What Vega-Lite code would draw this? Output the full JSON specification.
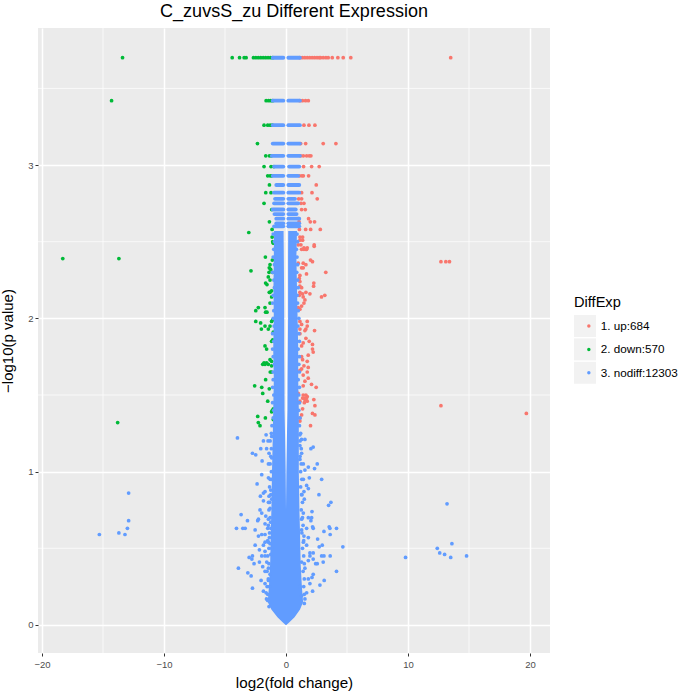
{"$schema":"https://vega.github.io/schema/vega-lite/v6.json","width":512,"height":625,"autosize":"none","padding":{"left":38,"top":28,"right":135,"bottom":39},"background":"white","title":{"text":"C_zuvsS_zu Different Expression","fontSize":18,"fontWeight":"normal","font":"Liberation Sans","color":"black","anchor":"middle","offset":7},"config":{"view":{"fill":"#EBEBEB","stroke":null},"font":"Liberation Sans"},
"datasets":{"minorX":[{"v":-15},{"v":-5},{"v":5},{"v":15}],"minorY":[{"v":0.5},{"v":1.5},{"v":2.5},{"v":3.5}],"key":[{"g":"1. up:684","x":0,"y":0},{"g":"2. down:570","x":0,"y":0},{"g":"3. nodiff:12303","x":0,"y":0}],
"bands":[{"y":3.7,"a":-1.09,"b":-0.22},{"y":3.7,"a":0.19,"b":1.14},{"y":3.42,"a":-1.09,"b":-0.22},{"y":3.42,"a":0.19,"b":1.14},{"y":3.26,"a":-1.09,"b":-0.22},{"y":3.26,"a":0.19,"b":1.14},{"y":3.14,"a":-1.09,"b":-0.22},{"y":3.14,"a":0.19,"b":1.14},{"y":3.06,"a":-1.17,"b":-0.22},{"y":3.06,"a":0.19,"b":1.14},{"y":2.99,"a":-0.98,"b":-0.22},{"y":2.99,"a":0.25,"b":1.09},{"y":2.93,"a":-1.09,"b":-0.22},{"y":2.93,"a":0.19,"b":1.0},{"y":2.87,"a":-0.8,"b":-0.22},{"y":2.87,"a":0.19,"b":1.09},{"y":2.82,"a":-0.98,"b":-0.22},{"y":2.82,"a":0.19,"b":1.09},{"y":2.78,"a":-0.9,"b":-0.22},{"y":2.78,"a":0.19,"b":0.74},{"y":2.75,"a":-0.98,"b":-0.22},{"y":2.75,"a":0.19,"b":1.0},{"y":2.71,"a":-1.09,"b":-0.22},{"y":2.71,"a":0.19,"b":0.8},{"y":2.68,"a":-0.95,"b":-0.22},{"y":2.68,"a":0.19,"b":0.87},{"y":2.65,"a":-0.8,"b":-0.22},{"y":2.65,"a":0.19,"b":1.09},{"y":2.62,"a":-0.8,"b":-0.22},{"y":2.62,"a":0.19,"b":1.09},{"y":2.6,"a":-0.98,"b":-0.22},{"y":2.6,"a":0.19,"b":1.09}],
"core":[{"y":2.57,"a":-0.98,"b":-0.2,"c":0.18,"d":0.9},{"y":2.4,"a":-1.0,"b":-0.18,"c":0.17,"d":0.85},{"y":2.2,"a":-1.03,"b":-0.16,"c":0.17,"d":0.9},{"y":2.0,"a":-1.0,"b":-0.15,"c":0.17,"d":0.95},{"y":1.8,"a":-1.05,"b":-0.15,"c":0.15,"d":1.0},{"y":1.6,"a":-1.0,"b":-0.13,"c":0.13,"d":1.0},{"y":1.4,"a":-1.05,"b":-0.12,"c":0.12,"d":1.05},{"y":1.25,"a":-1.08,"b":-0.08,"c":0.08,"d":1.05},{"y":1.0,"a":-1.15,"b":-0.03,"c":0.03,"d":1.05},{"y":0.75,"a":-1.2,"b":0,"c":0,"d":1.1},{"y":0.6,"a":-1.25,"b":0,"c":0,"d":1.15},{"y":0.4,"a":-1.3,"b":0,"c":0,"d":1.2},{"y":0.25,"a":-1.4,"b":0,"c":0,"d":1.3},{"y":0.15,"a":-1.5,"b":0,"c":0,"d":1.4},{"y":0.1,"a":-1.2,"b":0,"c":0,"d":1.15},{"y":0.05,"a":-0.7,"b":0,"c":0,"d":0.7},{"y":0.02,"a":-0.3,"b":0,"c":0,"d":0.3},{"y":0,"a":-0.03,"b":0,"c":0,"d":0.03}],
"up":[{"x":13.5,"y":3.7},{"x":1.14,"y":3.7},{"x":1.34,"y":3.7},{"x":1.54,"y":3.7},{"x":1.74,"y":3.7},{"x":1.94,"y":3.7},{"x":2.14,"y":3.7},{"x":2.34,"y":3.7},{"x":2.54,"y":3.7},{"x":2.72,"y":3.7},{"x":2.83,"y":3.7},{"x":3.05,"y":3.7},{"x":3.27,"y":3.7},{"x":3.46,"y":3.7},{"x":3.79,"y":3.7},{"x":4.25,"y":3.7},{"x":4.69,"y":3.7},{"x":5.31,"y":3.7},{"x":1.14,"y":3.42},{"x":1.35,"y":3.42},{"x":1.6,"y":3.42},{"x":1.83,"y":3.42},{"x":1.47,"y":3.26},{"x":1.88,"y":3.26},{"x":2.37,"y":3.26},{"x":1.2,"y":3.14},{"x":1.61,"y":3.14},{"x":3.05,"y":3.14},{"x":4.09,"y":3.14},{"x":1.2,"y":3.06},{"x":1.42,"y":3.06},{"x":1.69,"y":3.06},{"x":1.9,"y":3.06},{"x":2.04,"y":3.06},{"x":1.44,"y":2.99},{"x":2.1,"y":2.99},{"x":2.72,"y":2.99},{"x":1.1,"y":2.93},{"x":1.3,"y":2.93},{"x":1.42,"y":2.93},{"x":1.85,"y":2.93},{"x":2.48,"y":2.87},{"x":1.28,"y":2.82},{"x":2.13,"y":2.82},{"x":1.04,"y":2.78},{"x":1.28,"y":2.78},{"x":2.56,"y":2.78},{"x":1.23,"y":2.75},{"x":1.47,"y":2.75},{"x":1.28,"y":2.71},{"x":1.58,"y":2.71},{"x":1.04,"y":2.65},{"x":1.85,"y":2.65},{"x":1.07,"y":2.63},{"x":1.99,"y":2.63},{"x":2.34,"y":2.63},{"x":1.1,"y":2.58},{"x":1.61,"y":2.58},{"x":2.02,"y":2.58},{"x":2.81,"y":2.58},{"x":1.14,"y":2.53},{"x":1.36,"y":2.53},{"x":1.14,"y":2.51},{"x":1.36,"y":2.51},{"x":2.31,"y":2.47},{"x":1.47,"y":2.45},{"x":1.69,"y":2.45},{"x":12.7,"y":2.37},{"x":13.1,"y":2.37},{"x":13.4,"y":2.37},{"x":12.7,"y":1.43},{"x":19.7,"y":1.38},{"x":1.0,"y":2.48},{"x":1.22,"y":2.48},{"x":1.47,"y":2.46},{"x":1.74,"y":2.46},{"x":2.31,"y":2.48},{"x":1.28,"y":2.45},{"x":1.63,"y":2.45},{"x":2.01,"y":2.38},{"x":2.17,"y":2.37},{"x":1.0,"y":2.36},{"x":1.41,"y":2.36},{"x":1.63,"y":2.35},{"x":1.41,"y":2.33},{"x":1.28,"y":2.33},{"x":3.26,"y":2.3},{"x":1.68,"y":2.29},{"x":1.14,"y":2.28},{"x":1.09,"y":2.26},{"x":1.14,"y":2.24},{"x":2.28,"y":2.23},{"x":1.14,"y":2.21},{"x":2.26,"y":2.21},{"x":1.28,"y":2.2},{"x":1.14,"y":2.17},{"x":1.36,"y":2.16},{"x":1.63,"y":2.17},{"x":1.96,"y":2.16},{"x":1.09,"y":2.15},{"x":3.18,"y":2.15},{"x":2.91,"y":2.14},{"x":1.41,"y":2.14},{"x":1.55,"y":2.12},{"x":1.47,"y":2.1},{"x":1.28,"y":2.08},{"x":1.14,"y":2.06},{"x":1.0,"y":2.07},{"x":1.14,"y":1.98},{"x":1.74,"y":1.98},{"x":1.28,"y":1.96},{"x":1.74,"y":1.95},{"x":1.63,"y":1.93},{"x":1.14,"y":1.93},{"x":2.34,"y":1.92},{"x":1.55,"y":1.92},{"x":1.14,"y":1.9},{"x":1.63,"y":1.87},{"x":1.9,"y":1.85},{"x":2.17,"y":1.83},{"x":1.41,"y":1.84},{"x":1.28,"y":1.82},{"x":2.17,"y":1.8},{"x":2.23,"y":1.78},{"x":1.28,"y":1.75},{"x":1.82,"y":1.76},{"x":1.36,"y":1.73},{"x":1.74,"y":1.72},{"x":1.47,"y":1.69},{"x":1.28,"y":1.67},{"x":1.82,"y":1.68},{"x":1.14,"y":1.66},{"x":1.74,"y":1.65},{"x":1.41,"y":1.63},{"x":1.82,"y":1.61},{"x":1.55,"y":1.59},{"x":2.09,"y":1.57},{"x":1.41,"y":1.56},{"x":2.47,"y":1.55},{"x":1.0,"y":1.51},{"x":1.41,"y":1.5},{"x":1.63,"y":1.5},{"x":1.74,"y":1.49},{"x":1.36,"y":1.48},{"x":1.55,"y":1.47},{"x":1.14,"y":1.46},{"x":2.28,"y":1.47},{"x":1.74,"y":1.46},{"x":1.09,"y":1.45},{"x":2.37,"y":1.43},{"x":1.36,"y":1.41},{"x":2.17,"y":1.38},{"x":2.37,"y":1.37},{"x":1.28,"y":1.37},{"x":1.14,"y":1.35},{"x":1.14,"y":1.33},{"x":2.01,"y":1.3},{"x":1.5,"y":1.48},{"x":1.6,"y":1.47},{"x":1.68,"y":1.48},{"x":1.5,"y":1.45}],
"down":[{"x":-13.4,"y":3.7},{"x":-4.41,"y":3.7},{"x":-3.81,"y":3.7},{"x":-3.43,"y":3.7},{"x":-3.27,"y":3.7},{"x":-2.67,"y":3.7},{"x":-2.47,"y":3.7},{"x":-2.27,"y":3.7},{"x":-2.07,"y":3.7},{"x":-1.87,"y":3.7},{"x":-1.67,"y":3.7},{"x":-1.47,"y":3.7},{"x":-1.27,"y":3.7},{"x":-1.09,"y":3.7},{"x":-14.3,"y":3.42},{"x":-1.63,"y":3.42},{"x":-1.43,"y":3.42},{"x":-1.25,"y":3.42},{"x":-1.09,"y":3.42},{"x":-1.8,"y":3.26},{"x":-1.5,"y":3.26},{"x":-1.3,"y":3.26},{"x":-1.12,"y":3.26},{"x":-2.34,"y":3.14},{"x":-1.66,"y":3.06},{"x":-1.36,"y":3.06},{"x":-1.2,"y":3.06},{"x":-1.8,"y":2.99},{"x":-1.23,"y":2.99},{"x":-1.0,"y":2.99},{"x":-1.5,"y":2.93},{"x":-1.3,"y":2.93},{"x":-1.17,"y":2.93},{"x":-1.36,"y":2.87},{"x":-1.66,"y":2.82},{"x":-1.23,"y":2.82},{"x":-1.8,"y":2.75},{"x":-1.17,"y":2.71},{"x":-1.36,"y":2.63},{"x":-1.14,"y":2.58},{"x":-3.05,"y":2.56},{"x":-1.14,"y":2.53},{"x":-1.04,"y":2.49},{"x":-18.3,"y":2.39},{"x":-13.7,"y":2.39},{"x":-13.8,"y":1.32},{"x":-1.09,"y":2.5},{"x":-1.69,"y":2.4},{"x":-1.12,"y":2.38},{"x":-1.31,"y":2.35},{"x":-1.37,"y":2.33},{"x":-1.26,"y":2.32},{"x":-1.12,"y":2.3},{"x":-1.39,"y":2.3},{"x":-2.87,"y":2.31},{"x":-1.45,"y":2.27},{"x":-1.31,"y":2.25},{"x":-1.67,"y":2.23},{"x":-1.56,"y":2.22},{"x":-1.18,"y":2.18},{"x":-1.31,"y":2.17},{"x":-1.37,"y":2.17},{"x":-1.18,"y":2.14},{"x":-1.31,"y":2.1},{"x":-2.27,"y":2.07},{"x":-1.72,"y":2.07},{"x":-2.48,"y":2.05},{"x":-1.67,"y":2.04},{"x":-1.56,"y":2.04},{"x":-2.48,"y":1.98},{"x":-2.08,"y":1.97},{"x":-1.09,"y":1.99},{"x":-1.18,"y":1.98},{"x":-1.72,"y":1.95},{"x":-1.31,"y":1.95},{"x":-1.45,"y":1.93},{"x":-2.02,"y":1.93},{"x":-1.04,"y":1.91},{"x":-1.09,"y":1.86},{"x":-1.18,"y":1.85},{"x":-1.72,"y":1.82},{"x":-1.59,"y":1.8},{"x":-1.31,"y":1.73},{"x":-1.18,"y":1.72},{"x":-1.59,"y":1.71},{"x":-1.8,"y":1.71},{"x":-1.91,"y":1.7},{"x":-1.45,"y":1.7},{"x":-1.72,"y":1.7},{"x":-1.18,"y":1.69},{"x":-1.18,"y":1.65},{"x":-1.29,"y":1.65},{"x":-1.67,"y":1.6},{"x":-2.57,"y":1.56},{"x":-1.99,"y":1.55},{"x":-1.37,"y":1.54},{"x":-1.91,"y":1.51},{"x":-1.5,"y":1.46},{"x":-1.04,"y":1.41},{"x":-1.12,"y":1.4},{"x":-1.18,"y":1.39},{"x":-2.32,"y":1.36},{"x":-1.69,"y":1.35},{"x":-1.04,"y":1.34},{"x":-2.27,"y":1.32},{"x":-2.13,"y":1.3}],
"nodiff":[{"x":-1.05,"y":2.55},{"x":-0.95,"y":2.5},{"x":-1.0,"y":2.45},{"x":-1.05,"y":2.4},{"x":-0.95,"y":2.35},{"x":-1.1,"y":2.3},{"x":-1.0,"y":2.25},{"x":-0.95,"y":2.2},{"x":-1.05,"y":2.15},{"x":-1.1,"y":2.1},{"x":-1.0,"y":2.05},{"x":-1.05,"y":2.0},{"x":-0.98,"y":1.95},{"x":-1.1,"y":1.9},{"x":-1.0,"y":1.85},{"x":-1.1,"y":1.8},{"x":-1.05,"y":1.75},{"x":-0.95,"y":1.7},{"x":-1.05,"y":1.65},{"x":-1.05,"y":1.6},{"x":-1.1,"y":1.55},{"x":-1.0,"y":1.5},{"x":-1.1,"y":1.45},{"x":-1.0,"y":1.4},{"x":-1.05,"y":1.35},{"x":-1.15,"y":1.3},{"x":-1.2,"y":1.25},{"x":-1.3,"y":1.2},{"x":-1.2,"y":1.15},{"x":-1.25,"y":1.1},{"x":-1.3,"y":1.05},{"x":-1.2,"y":1.0},{"x":-1.3,"y":0.95},{"x":-1.35,"y":0.9},{"x":-1.25,"y":0.85},{"x":-1.35,"y":0.8},{"x":-1.4,"y":0.75},{"x":-1.3,"y":0.7},{"x":-1.45,"y":0.65},{"x":-1.35,"y":0.6},{"x":-1.5,"y":0.55},{"x":-1.4,"y":0.5},{"x":-1.5,"y":0.45},{"x":-1.4,"y":0.4},{"x":-1.55,"y":0.35},{"x":-1.45,"y":0.3},{"x":-1.55,"y":0.25},{"x":-1.5,"y":0.2},{"x":-1.6,"y":0.17},
{"x":0.9,"y":2.55},{"x":0.95,"y":2.5},{"x":0.85,"y":2.45},{"x":0.9,"y":2.4},{"x":0.95,"y":2.35},{"x":0.88,"y":2.3},{"x":0.95,"y":2.25},{"x":1.0,"y":2.2},{"x":0.9,"y":2.15},{"x":0.95,"y":2.1},{"x":1.0,"y":2.05},{"x":1.05,"y":2.0},{"x":0.98,"y":1.95},{"x":1.05,"y":1.9},{"x":1.1,"y":1.85},{"x":1.0,"y":1.8},{"x":1.1,"y":1.75},{"x":1.05,"y":1.7},{"x":1.1,"y":1.65},{"x":1.0,"y":1.6},{"x":1.1,"y":1.55},{"x":1.05,"y":1.5},{"x":1.1,"y":1.45},{"x":1.05,"y":1.4},{"x":1.15,"y":1.35},{"x":1.1,"y":1.3},{"x":1.2,"y":1.25},{"x":1.15,"y":1.2},{"x":1.25,"y":1.15},{"x":1.15,"y":1.1},{"x":1.25,"y":1.05},{"x":1.2,"y":1.0},{"x":1.3,"y":0.95},{"x":1.2,"y":0.9},{"x":1.3,"y":0.85},{"x":1.35,"y":0.8},{"x":1.25,"y":0.75},{"x":1.35,"y":0.7},{"x":1.4,"y":0.65},{"x":1.3,"y":0.6},{"x":1.45,"y":0.55},{"x":1.35,"y":0.5},{"x":1.45,"y":0.45},{"x":1.5,"y":0.4},{"x":1.4,"y":0.35},{"x":1.5,"y":0.3},{"x":1.45,"y":0.25},{"x":1.5,"y":0.2},{"x":1.55,"y":0.17},
{"x":-3.98,"y":1.22},{"x":-1.63,"y":1.24},{"x":-1.17,"y":1.23},{"x":-1.85,"y":1.2},{"x":-1.47,"y":1.2},{"x":-2.75,"y":1.12},{"x":-2.48,"y":1.11},{"x":-2.07,"y":1.15},{"x":-1.59,"y":1.15},{"x":-1.39,"y":1.12},{"x":-1.96,"y":1.07},{"x":-1.44,"y":1.05},{"x":-1.17,"y":1.09},{"x":-1.99,"y":0.98},{"x":-2.37,"y":0.92},{"x":-1.44,"y":0.96},{"x":-1.17,"y":0.95},{"x":-1.72,"y":0.87},{"x":-1.85,"y":0.86},{"x":-2.1,"y":0.84},{"x":-1.25,"y":0.88},{"x":-1.39,"y":0.84},{"x":-1.85,"y":0.81},{"x":-1.44,"y":0.8},{"x":-1.17,"y":0.82},{"x":-2.13,"y":0.75},{"x":-1.99,"y":0.73},{"x":-1.31,"y":0.76},{"x":-3.68,"y":0.72},{"x":-3.16,"y":0.68},{"x":-2.32,"y":0.68},{"x":-2.26,"y":0.69},{"x":-1.66,"y":0.71},{"x":-1.44,"y":0.69},{"x":-1.72,"y":0.66},{"x":-1.25,"y":0.67},{"x":-4.06,"y":0.63},{"x":-3.54,"y":0.63},{"x":-3.35,"y":0.63},{"x":-2.53,"y":0.62},{"x":-1.5,"y":0.63},{"x":-1.25,"y":0.63},{"x":-2.26,"y":0.58},{"x":-1.99,"y":0.59},{"x":-1.72,"y":0.59},{"x":-1.36,"y":0.57},{"x":-1.72,"y":0.54},{"x":-1.44,"y":0.54},{"x":-2.53,"y":0.52},{"x":-1.85,"y":0.52},{"x":-1.31,"y":0.53},{"x":-2.18,"y":0.49},{"x":-1.72,"y":0.48},{"x":-1.17,"y":0.5},{"x":-3.02,"y":0.44},{"x":-2.75,"y":0.45},{"x":-2.8,"y":0.43},{"x":-1.99,"y":0.45},{"x":-1.72,"y":0.45},{"x":-1.25,"y":0.46},{"x":-2.18,"y":0.41},{"x":-1.91,"y":0.38},{"x":-1.58,"y":0.41},{"x":-2.62,"y":0.4},{"x":-3.9,"y":0.37},{"x":-3.13,"y":0.34},{"x":-2.86,"y":0.32},{"x":-2.75,"y":0.24},{"x":-1.44,"y":0.37},{"x":-1.72,"y":0.35},{"x":-1.31,"y":0.33},{"x":-2.04,"y":0.29},{"x":-1.72,"y":0.27},{"x":-1.44,"y":0.29},{"x":-1.85,"y":0.22},{"x":-1.63,"y":0.21},{"x":-1.36,"y":0.25},{"x":-1.5,"y":0.16},{"x":-1.39,"y":0.12},
{"x":1.14,"y":1.24},{"x":1.28,"y":1.21},{"x":1.55,"y":1.21},{"x":1.14,"y":1.17},{"x":2.04,"y":1.15},{"x":2.23,"y":1.16},{"x":1.28,"y":1.12},{"x":2.56,"y":1.05},{"x":2.34,"y":1.02},{"x":1.42,"y":1.05},{"x":1.83,"y":1.03},{"x":1.55,"y":1.01},{"x":1.14,"y":1.08},{"x":1.91,"y":0.96},{"x":2.92,"y":0.95},{"x":1.42,"y":0.95},{"x":1.69,"y":0.91},{"x":1.83,"y":0.89},{"x":1.47,"y":0.87},{"x":2.7,"y":0.85},{"x":1.28,"y":0.85},{"x":1.5,"y":0.82},{"x":3.68,"y":0.8},{"x":3.49,"y":0.78},{"x":2.13,"y":0.74},{"x":1.42,"y":0.73},{"x":1.83,"y":0.7},{"x":2.1,"y":0.7},{"x":2.04,"y":0.68},{"x":1.28,"y":0.69},{"x":3.54,"y":0.64},{"x":3.6,"y":0.63},{"x":4.14,"y":0.63},{"x":3.11,"y":0.61},{"x":3.62,"y":0.59},{"x":2.18,"y":0.64},{"x":2.23,"y":0.63},{"x":1.69,"y":0.63},{"x":1.28,"y":0.62},{"x":1.47,"y":0.58},{"x":1.83,"y":0.57},{"x":2.59,"y":0.56},{"x":2.72,"y":0.51},{"x":2.97,"y":0.52},{"x":4.66,"y":0.51},{"x":1.69,"y":0.52},{"x":1.42,"y":0.54},{"x":1.96,"y":0.47},{"x":2.23,"y":0.47},{"x":1.96,"y":0.45},{"x":2.23,"y":0.43},{"x":1.83,"y":0.42},{"x":2.92,"y":0.45},{"x":3.11,"y":0.45},{"x":3.62,"y":0.45},{"x":3.05,"y":0.41},{"x":2.43,"y":0.4},{"x":2.56,"y":0.4},{"x":1.28,"y":0.41},{"x":4.14,"y":0.35},{"x":1.55,"y":0.37},{"x":2.23,"y":0.33},{"x":2.13,"y":0.31},{"x":3.13,"y":0.29},{"x":2.78,"y":0.26},{"x":1.83,"y":0.3},{"x":1.96,"y":0.27},{"x":2.18,"y":0.22},{"x":1.69,"y":0.21},{"x":1.5,"y":0.14},{"x":1.28,"y":0.19},{"x":1.14,"y":0.25},
{"x":-15.3,"y":0.59},{"x":-13.7,"y":0.6},{"x":-13.2,"y":0.59},{"x":-13.0,"y":0.63},{"x":-12.9,"y":0.68},{"x":-12.9,"y":0.86},{"x":13.2,"y":0.79},{"x":9.8,"y":0.44},{"x":12.4,"y":0.5},{"x":12.6,"y":0.47},{"x":13.0,"y":0.46},{"x":13.5,"y":0.44},{"x":13.6,"y":0.53},{"x":14.8,"y":0.45}]},
"encoding":{"x":{"type":"quantitative","scale":{"domain":[-20.33,21.64],"nice":false,"zero":false},"axis":{"values":[-20,-10,0,10,20],"format":"d","title":"log2(fold change)","titleFontSize":15.2,"titleFontWeight":"normal","titleColor":"black","titlePadding":6,"labelFontSize":9.5,"labelColor":"#4D4D4D","tickColor":"#333333","tickSize":3,"labelPadding":3.5,"domain":false,"gridColor":"white","gridWidth":1.5}},"y":{"type":"quantitative","scale":{"domain":[-0.183,3.894],"nice":false,"zero":false},"axis":{"values":[0,1,2,3],"format":"d","title":"−log10(p value)","titleFontSize":15,"titleFontWeight":"normal","titleColor":"black","titlePadding":12,"labelFontSize":9.5,"labelColor":"#4D4D4D","tickColor":"#333333","tickSize":3,"labelPadding":2,"domain":false,"gridColor":"white","gridWidth":1.5}}},
"layer":[
{"data":{"name":"minorX"},"mark":{"type":"rule","color":"white","strokeWidth":0.7},"encoding":{"x":{"field":"v"},"y":null}},
{"data":{"name":"minorY"},"mark":{"type":"rule","color":"white","strokeWidth":0.7},"encoding":{"y":{"field":"v"},"x":null}},
{"data":{"name":"key"},"mark":{"type":"point","opacity":0,"filled":true,"size":1,"color":"#F2F2F2"},"encoding":{"x":{"field":"x"},"y":{"field":"y"},"shape":{"field":"g","type":"nominal","scale":{"range":["square","square","square"]},"legend":{"title":"DiffExp","orient":"none","legendX":536,"legendY":267,"symbolSize":484,"symbolType":"square","symbolOpacity":1,"symbolStrokeWidth":0,"labelExpr":"''","titleColor":"transparent","titleFontSize":14.6,"titleFontWeight":"normal","titlePadding":5,"clipHeight":23,"rowPadding":0.3,"zindex":0}}}},
{"data":{"name":"down"},"mark":{"type":"point","filled":true,"size":14,"opacity":1},"encoding":{"x":{"field":"x"},"y":{"field":"y"},"color":{"datum":"2. down:570","type":"nominal","scale":{"domain":["1. up:684","2. down:570","3. nodiff:12303"],"range":["#F8766D","#00BA38","#619CFF"]},"legend":{"title":"DiffExp","orient":"none","legendX":536,"legendY":267,"symbolSize":12,"symbolType":"circle","symbolOpacity":1,"symbolOffset":9,"titleColor":"black","titleFontSize":14.6,"titleFontWeight":"normal","titleFont":"Liberation Sans","titlePadding":5,"labelFontSize":11.7,"labelColor":"black","labelOffset":6,"clipHeight":23,"rowPadding":0.3,"zindex":1}}}},
{"data":{"name":"up"},"mark":{"type":"point","filled":true,"size":14,"opacity":1},"encoding":{"x":{"field":"x"},"y":{"field":"y"},"color":{"datum":"1. up:684","type":"nominal"}}},
{"data":{"name":"core"},"mark":{"type":"area","orient":"horizontal","color":"#619CFF"},"encoding":{"y":{"field":"y"},"x":{"field":"a"},"x2":{"field":"b"}}},
{"data":{"name":"core"},"mark":{"type":"area","orient":"horizontal","color":"#619CFF"},"encoding":{"y":{"field":"y"},"x":{"field":"c"},"x2":{"field":"d"}}},
{"data":{"name":"bands"},"mark":{"type":"rule","color":"#619CFF","strokeWidth":3.8,"strokeCap":"round"},"encoding":{"y":{"field":"y"},"x":{"field":"a"},"x2":{"field":"b"}}},
{"data":{"name":"nodiff"},"mark":{"type":"point","filled":true,"size":14,"opacity":1},"encoding":{"x":{"field":"x"},"y":{"field":"y"},"color":{"datum":"3. nodiff:12303","type":"nominal"}}}
]}
